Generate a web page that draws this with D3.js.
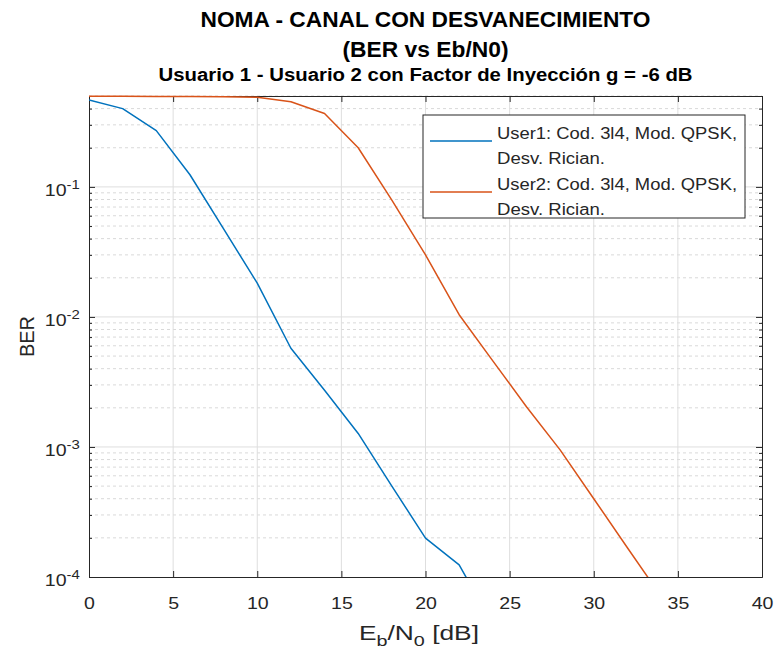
<!DOCTYPE html>
<html>
<head>
<meta charset="utf-8">
<script src="https://cdn.jsdelivr.net/npm/d3@7"></script>
<style>
  html, body { margin: 0; padding: 0; background: #fff; }
  svg { display: block; font-family: Arial, "Liberation Sans", Helvetica, sans-serif; }
</style>
</head>
<body>
<svg id="chart" width="775" height="652"></svg>
<script>
// Eb/N0 sweep in dB
const ebn0 = [0, 2, 4, 6, 8, 10, 12, 14, 16, 18, 20, 22, 24, 26, 28, 30, 32, 34];

// Simulated bit error rate per user (NaN = no errors counted)
const berUser1 = [0.467, 0.40, 0.271, 0.124, 0.0475, 0.0182, 0.00574, 0.00273, 0.00127,
                  0.00050, 0.000199, 0.000124, 0.000043, NaN, NaN, NaN, NaN, NaN];
const berUser2 = [0.497, 0.497, 0.496, 0.495, 0.493, 0.489, 0.451, 0.367, 0.200,
                  0.079, 0.030, 0.0104, 0.00459, 0.00204, 0.00095, 0.00040, 0.000168, 0.000071];

const seriesNames = [
  ["User1: Cod. 3l4, Mod. QPSK,", "Desv. Rician."],
  ["User2: Cod. 3l4, Mod. QPSK,", "Desv. Rician."]
];
const seriesColors = ["#0072BD", "#D95319"];

const xTicks = [0, 5, 10, 15, 20, 25, 30, 35, 40];
const yTicks = [1e-4, 1e-3, 1e-2, 1e-1];

const titleLines = ["NOMA - CANAL CON DESVANECIMIENTO", "(BER vs Eb/N0)"];
const subtitle = "Usuario 1 - Usuario 2 con Factor de Inyección g = -6 dB";

const svg = d3.select("#chart");
const L = 89, R = 762, T = 96, B = 577;
const axisColor = "#262626";
const stretch = 1.15; // horizontal widening of the tick label glyphs

const x = d3.scaleLinear().domain([0, 40]).range([L, R]);
const y = d3.scaleLog().domain([1e-4, 0.5]).range([B, T]);

// minor log positions: 2..9 of every decade inside the domain
const minorY = [];
for (let e = -4; e <= -1; e++) {
  for (let m = 2; m <= 9; m++) {
    const v = m * Math.pow(10, e);
    if (v <= 0.5) minorY.push(v);
  }
}

// grid
const grid = svg.append("g");
grid.selectAll("line.minor").data(minorY).join("line")
  .attr("x1", L).attr("x2", R)
  .attr("y1", d => y(d)).attr("y2", d => y(d))
  .attr("stroke", "#d9d9d9").attr("stroke-width", 1)
  .attr("stroke-dasharray", "3,3");
grid.selectAll("line.vx").data(xTicks.slice(1, -1)).join("line")
  .attr("x1", d => x(d)).attr("x2", d => x(d))
  .attr("y1", T).attr("y2", B)
  .attr("stroke", "#dedede").attr("stroke-width", 1);
grid.selectAll("line.hy").data(yTicks.slice(1)).join("line")
  .attr("x1", L).attr("x2", R)
  .attr("y1", d => y(d)).attr("y2", d => y(d))
  .attr("stroke", "#dedede").attr("stroke-width", 1);

// axes (ticks pointing inward, box on)
function styleAxis(g) {
  g.select(".domain").attr("stroke", axisColor).attr("stroke-width", 1);
  g.selectAll(".tick line").attr("stroke", axisColor);
  g.selectAll(".tick text").attr("fill", axisColor).attr("font-size", 17)
    .attr("font-family", "Arial, 'Liberation Sans', sans-serif");
}

const xAxis = svg.append("g").attr("transform", `translate(0,${B})`)
  .call(d3.axisBottom(x).tickValues(xTicks).tickSizeInner(-6).tickSizeOuter(0).tickPadding(20));
styleAxis(xAxis);
xAxis.selectAll(".tick text").attr("transform", `scale(${stretch},1)`);

svg.append("g").attr("transform", `translate(0,${T})`)
  .call(d3.axisTop(x).tickValues(xTicks).tickSizeInner(-6).tickSizeOuter(0).tickFormat(""))
  .call(styleAxis);

const yAxis = svg.append("g").attr("transform", `translate(${L},0)`)
  .call(d3.axisLeft(y).tickValues(yTicks).tickSizeInner(-6).tickSizeOuter(0).tickPadding(8)
    .tickFormat(() => ""));
styleAxis(yAxis);
yAxis.selectAll(".tick text").each(function (d) {
  const t = d3.select(this);
  t.attr("dy", "0.5em").attr("transform", `scale(${stretch},1)`);
  t.append("tspan").text("10");
  t.append("tspan").attr("dy", "-0.55em").attr("font-size", 13)
    .text("-" + Math.round(-Math.log10(d)));
});

svg.append("g").attr("transform", `translate(${R},0)`)
  .call(d3.axisRight(y).tickValues(yTicks).tickSizeInner(-6).tickSizeOuter(0).tickFormat(""))
  .call(styleAxis);

// minor ticks on both vertical sides
svg.append("g").attr("transform", `translate(${L},0)`)
  .call(d3.axisLeft(y).tickValues(minorY).tickSizeInner(-3).tickSizeOuter(0).tickFormat(""))
  .call(styleAxis);
svg.append("g").attr("transform", `translate(${R},0)`)
  .call(d3.axisRight(y).tickValues(minorY).tickSizeInner(-3).tickSizeOuter(0).tickFormat(""))
  .call(styleAxis);

// data lines, drawn over the box and clipped to it
svg.append("clipPath").attr("id", "plotClip")
  .append("rect").attr("x", L).attr("y", T - 1).attr("width", R - L).attr("height", B - T + 1);

const line = d3.line()
  .defined(d => !isNaN(d[1]))
  .x(d => x(d[0]))
  .y(d => y(d[1]));

const plot = svg.append("g").attr("clip-path", "url(#plotClip)");
[berUser1, berUser2].forEach((ber, i) => {
  plot.append("path")
    .datum(ebn0.map((e, k) => [e, ber[k]]))
    .attr("fill", "none")
    .attr("stroke", seriesColors[i])
    .attr("stroke-width", 1.5)
    .attr("stroke-linejoin", "round")
    .attr("d", line);
});

// titles
const cx = (L + R) / 2;
svg.append("text").attr("x", cx).attr("y", 27).attr("text-anchor", "middle")
  .attr("font-size", 22).attr("font-weight", "bold").attr("fill", "#000")
  .attr("textLength", 450).attr("lengthAdjust", "spacingAndGlyphs")
  .text(titleLines[0]);
svg.append("text").attr("x", cx).attr("y", 57).attr("text-anchor", "middle")
  .attr("font-size", 22).attr("font-weight", "bold").attr("fill", "#000")
  .attr("textLength", 166).attr("lengthAdjust", "spacingAndGlyphs")
  .text(titleLines[1]);
svg.append("text").attr("x", cx).attr("y", 81).attr("text-anchor", "middle")
  .attr("font-size", 18).attr("font-weight", "bold").attr("fill", "#000")
  .attr("textLength", 534).attr("lengthAdjust", "spacingAndGlyphs")
  .text(subtitle);

// axis labels
const xl = svg.append("text").attr("x", 419).attr("y", 640).attr("text-anchor", "middle")
  .attr("font-size", 20).attr("fill", axisColor)
  .attr("textLength", 120).attr("lengthAdjust", "spacingAndGlyphs");
xl.append("tspan").text("E");
xl.append("tspan").attr("font-size", 15).attr("dy", 6).text("b");
xl.append("tspan").attr("dy", -6).text("/N");
xl.append("tspan").attr("font-size", 15).attr("dy", 6).text("0");
xl.append("tspan").attr("dy", -6).text(" [dB]");

svg.append("text").attr("transform", `translate(34,${(T + B) / 2}) rotate(-90)`)
  .attr("text-anchor", "middle").attr("font-size", 20).attr("fill", axisColor)
  .text("BER");

// legend
const lg = svg.append("g").attr("transform", "translate(423,115)");
lg.append("rect").attr("width", 322).attr("height", 103)
  .attr("fill", "#fff").attr("stroke", axisColor).attr("stroke-width", 1);
seriesNames.forEach((lines, i) => {
  const y0 = 26 + i * 51;
  lg.append("line").attr("x1", 7).attr("x2", 69).attr("y1", y0).attr("y2", y0)
    .attr("stroke", seriesColors[i]).attr("stroke-width", 1.5);
  lines.forEach((s, j) => {
    lg.append("text").attr("x", 74).attr("y", y0 - 8 + j * 25)
      .attr("dy", "0.35em").attr("font-size", 16).attr("fill", axisColor)
      .attr("textLength", j === 0 ? 240 : 108).attr("lengthAdjust", "spacingAndGlyphs")
      .text(s);
  });
});
</script>
</body>
</html>
